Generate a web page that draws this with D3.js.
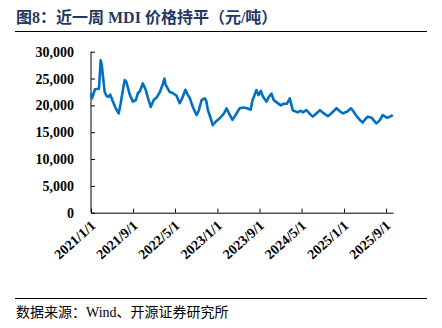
<!DOCTYPE html>
<html><head><meta charset="utf-8">
<script src="https://cdn.jsdelivr.net/npm/d3@7/dist/d3.min.js"></script>
<style>
body{margin:0;background:#fff;}
.num{font-family:"Liberation Serif","DejaVu Serif",serif;font-weight:bold;}
</style></head>
<body><svg id="c" width="442" height="328"></svg>
<script>
const titleText = "图8：近一周 MDI 价格持平（元/吨）";
const sourceText = "数据来源：Wind、开源证券研究所";
const yTicks = [0, 5000, 10000, 15000, 20000, 25000, 30000];
const xTickLabels = ["2021/1/1","2021/9/1","2022/5/1","2023/1/1","2023/9/1","2024/5/1","2025/1/1","2025/9/1"];
const dates = ["2021-01-01","2021-01-07","2021-01-24","2021-02-16","2021-02-26","2021-03-04","2021-03-21","2021-04-02","2021-04-13","2021-04-22","2021-05-06","2021-05-23","2021-06-10","2021-06-21","2021-07-14","2021-07-23","2021-08-13","2021-08-31","2021-09-17","2021-09-29","2021-10-10","2021-10-27","2021-11-14","2021-11-25","2021-12-12","2021-12-29","2022-01-16","2022-02-03","2022-02-20","2022-03-01","2022-03-08","2022-03-31","2022-04-18","2022-05-10","2022-05-28","2022-06-14","2022-06-30","2022-07-13","2022-07-25","2022-08-11","2022-09-02","2022-09-15","2022-10-02","2022-10-20","2022-10-29","2022-11-07","2022-11-24","2022-12-05","2022-12-23","2023-01-15","2023-02-08","2023-02-23","2023-03-12","2023-03-29","2023-04-16","2023-05-09","2023-06-01","2023-06-25","2023-07-12","2023-07-23","2023-08-01","2023-08-14","2023-08-27","2023-09-09","2023-09-20","2023-10-11","2023-10-24","2023-11-09","2023-11-22","2023-12-04","2024-01-02","2024-01-19","2024-02-06","2024-02-23","2024-03-11","2024-04-09","2024-04-26","2024-05-08","2024-05-29","2024-06-18","2024-07-05","2024-07-22","2024-08-15","2024-09-07","2024-09-30","2024-10-17","2024-11-04","2024-11-19","2024-12-08","2024-12-26","2025-01-18","2025-02-10","2025-02-22","2025-03-10","2025-04-02","2025-04-19","2025-05-06","2025-05-18","2025-06-10","2025-06-22","2025-07-07","2025-07-26","2025-08-13","2025-08-31","2025-09-11","2025-09-23","2025-10-10"];
const prices = [22200,21300,23000,23100,28400,27500,22500,21700,21600,22000,20800,19500,18500,20300,24700,24500,22000,20700,21000,22300,22600,24100,22800,21500,19700,21000,21500,22500,24000,25000,23800,22500,22300,21800,20400,21500,22900,22000,21400,19800,18200,19000,21000,21300,20800,19100,17500,16300,17000,17600,18500,19450,18300,17300,18200,19450,19600,19400,19200,21000,21700,22850,21900,22700,21700,20700,21500,22200,21000,20700,20000,20300,20300,21300,19100,18700,19000,18700,19100,18400,17900,18400,19100,18500,18000,18400,19000,19450,18900,18500,18800,19450,19000,18200,17300,16800,17500,17900,17700,17200,16650,17200,18200,17800,17700,17900,18200];

const svg = d3.select("#c");
const parse = d3.timeParse("%Y-%m-%d");
const parseTick = d3.timeParse("%Y/%m/%d");
const data = dates.map((d,i)=>({d:parse(d), v:prices[i]}));

// title
svg.append("text").attr("x",16).attr("y",23)
  .attr("font-family","Liberation Serif, Noto Sans CJK SC")
  .attr("font-weight","bold").attr("font-size","16px").attr("fill","#1F3864")
  .text(titleText);
svg.append("line").attr("x1",15).attr("x2",427).attr("y1",31.5).attr("y2",31.5)
  .attr("stroke","#000").attr("stroke-width",1);

const x = d3.scaleTime().domain([parse("2021-01-01"), parse("2025-10-11")]).range([91, 393]);
const y = d3.scaleLinear().domain([0,30000]).range([212.7, 51.7]);

// y axis
const ya = svg.append("g").attr("transform","translate(91,0)")
  .call(d3.axisLeft(y).tickValues(yTicks).tickSize(-4).tickPadding(17).tickFormat(d3.format(",")));
ya.attr("font-family",null).attr("font-size",null);
ya.select(".domain").attr("d","M0,"+y(30000)+"V"+y(0)).attr("stroke","#000");
ya.selectAll(".tick line").attr("stroke","#000");
ya.selectAll("text").attr("class","num").attr("font-size","14px").attr("fill","#000");

// x axis
const xa = svg.append("g").attr("transform","translate(0,"+y(0)+")")
  .call(d3.axisBottom(x).tickValues(xTickLabels.map(parseTick)).tickSize(-4).tickSizeOuter(0).tickFormat((d,i)=>xTickLabels[i]));
xa.attr("font-family",null).attr("font-size",null);
xa.select(".domain").attr("stroke","#000");
xa.selectAll(".tick line").attr("stroke","#000");
xa.selectAll("text").attr("class","num").attr("font-size","14px").attr("fill","#000")
  .attr("text-anchor","end").attr("dy",null).attr("y",0)
  .attr("transform","translate(5,14) rotate(-42)");

// line
svg.append("path").datum(data)
  .attr("fill","none").attr("stroke","#0070C0").attr("stroke-width",2.6).attr("stroke-linejoin","round")
  .attr("d", d3.line().x(d=>x(d.d)).y(d=>y(d.v)));

// source
svg.append("line").attr("x1",15).attr("x2",427).attr("y1",298.5).attr("y2",298.5)
  .attr("stroke","#000").attr("stroke-width",1);
svg.append("text").attr("x",16).attr("y",317)
  .attr("font-family","Liberation Serif, Noto Sans CJK SC").attr("font-size","14px").attr("fill","#000")
  .text(sourceText);
</script></body></html>
